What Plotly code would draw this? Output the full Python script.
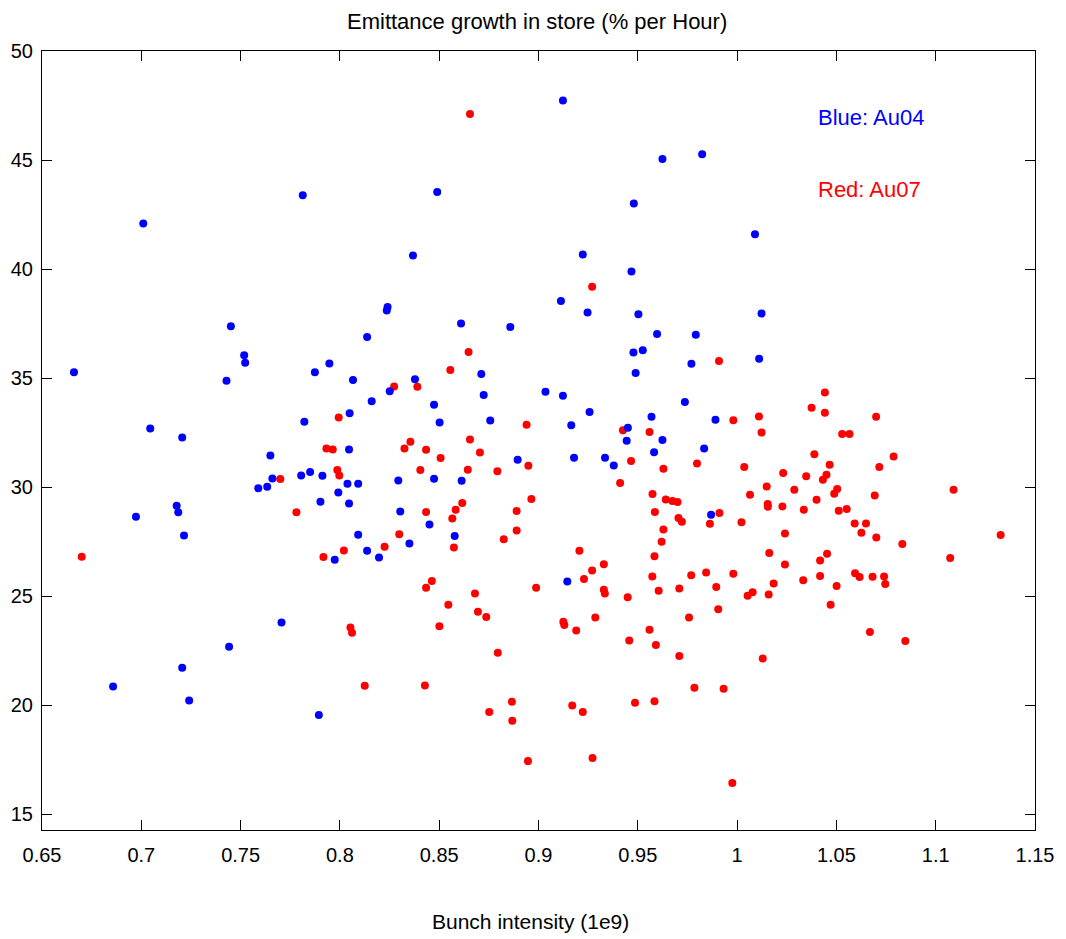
import plotly.graph_objects as go

# Au04 (blue) bunch intensity (1e9) and emittance growth (% per hour)
blue_x = [0.701, 0.7813, 0.849, 0.8368, 0.824, 0.9123, 0.9624, 0.9824, 0.948, 1.009,
          0.9223, 0.9468, 0.9113, 0.9247, 0.7451, 0.7518, 0.7523, 0.6661, 0.7429, 0.7045,
          0.7206, 0.765, 0.766, 0.7589, 0.7634, 0.7178, 0.7186, 0.6973, 0.7215, 0.8236,
          0.861, 0.8858, 0.8137, 0.7947, 0.7874, 0.8712, 0.8066, 0.8378, 0.8251, 0.8724,
          0.8160, 0.8474, 0.8049, 0.7821, 0.8502, 0.8757, 0.8046, 0.8895, 0.7805, 0.785,
          0.7912, 0.8038, 0.8092, 0.8294, 0.8474, 0.8613, 0.7992, 0.7902, 0.8046, 0.8304,
          0.8451, 0.8092, 0.8578, 0.835, 0.8137, 0.8197, 0.7974, 0.9503, 1.0123, 0.9597,
          0.9792, 0.9478, 0.9525, 0.977, 1.0111, 0.9489, 0.9035, 0.9123, 0.9737, 0.9257,
          0.9569, 0.9891, 0.9165, 0.945, 0.9444, 0.9624, 0.9582, 0.9834, 0.9179, 0.9335,
          0.9379, 0.9869, 0.9145, 0.7894, 0.7706, 0.7442, 0.7206, 0.6858, 0.7241]
blue_y = [42.09, 43.38, 43.53, 40.62, 38.26, 47.73, 45.05, 45.26, 43.0, 41.59,
          40.67, 39.89, 38.53, 38.01, 37.37, 36.04, 35.70, 35.27, 34.88, 32.69,
          32.27, 31.45, 30.39, 29.95, 30.01, 29.14, 28.84, 28.64, 27.78, 38.10,
          37.5, 37.34, 36.88, 35.67, 35.26, 35.18, 34.91, 34.95, 34.39, 34.22,
          33.94, 33.77, 33.39, 33.0, 32.96, 33.05, 31.72, 31.25, 30.53, 30.69,
          30.52, 30.15, 30.15, 30.30, 30.38, 30.29, 29.75, 29.33, 29.25, 28.88,
          28.28, 27.81, 27.75, 27.41, 27.08, 26.77, 26.66, 37.92, 37.96, 37.02,
          36.99, 36.17, 36.27, 35.66, 35.89, 35.23, 34.37, 34.19, 33.90, 33.44,
          33.22, 33.09, 32.83, 32.72, 32.12, 32.16, 31.60, 31.77, 31.34, 31.34,
          30.99, 28.73, 25.67, 19.54, 23.79, 22.67, 21.71, 20.85, 20.21]

# Au07 (red)
red_x = [0.8655, 0.927, 0.770, 0.67, 0.8648, 0.8556, 0.8273, 0.8390, 0.7994, 0.8940,
         0.8655, 0.8355, 0.8325, 0.7932, 0.7964, 0.8434, 0.8705, 0.8507, 0.8949, 0.7987,
         0.7997, 0.8405, 0.8644, 0.8793, 0.8964, 0.8616, 0.8583, 0.8890, 0.8566, 0.7781,
         0.8434, 0.8890, 0.8825, 0.8299, 0.8574, 0.8020, 0.8225, 0.7917, 0.9909, 0.9981,
         1.011, 1.0123, 0.9425, 0.9559, 0.9466, 0.9798, 0.9629, 1.0036, 0.9411, 1.0232,
         1.0149, 1.0065, 0.9574, 0.9641, 0.9674, 0.97, 1.0154, 1.0155, 1.0228, 0.9586,
         0.9911, 0.9705, 0.9722, 0.9863, 1.0022, 0.9629, 1.0241, 0.9620, 0.9206, 0.9584,
         1.0162, 0.9329, 0.927, 1.0241, 0.9844,
         1.0442, 1.0375, 1.0442, 1.0700, 1.0529, 1.0566, 1.0389, 1.0788, 1.0466, 1.0716,
         1.0348, 1.0450, 1.0432, 1.0288, 1.0504, 1.0489, 1.109, 1.0693, 1.04, 1.0336,
         1.0512, 1.0552, 1.0592, 1.0649, 1.0626, 1.0701, 1.0832, 1.1327, 1.0453, 1.0418,
         1.1073,
         1.0333, 1.0418, 1.0501, 1.0594, 1.0617, 1.0682, 1.074, 1.0746, 1.0471, 1.0669,
         1.0847,
         0.9229, 0.9573, 0.9769, 0.9981, 1.0184, 0.9329, 0.9334, 0.9605, 0.9709, 0.9895,
         0.9449, 1.0053, 1.0078, 1.0159, 0.9905, 0.9286, 0.9758, 0.9125, 0.913, 0.9190,
         0.9559, 0.9457, 0.9591, 0.9709, 1.0129, 0.9785, 0.9932, 0.917, 0.9223, 0.9486,
         0.9584, 0.9272, 0.9976,
         0.8463, 0.8434, 0.868, 0.8988, 0.8546, 0.8695, 0.8737, 0.8501, 0.8053, 0.8061,
         0.8795, 0.8125, 0.8428, 0.8866, 0.8752, 0.8868, 0.8947]
red_y = [47.11, 39.19, 30.37, 26.80, 36.19, 35.37, 34.61, 34.60, 33.19, 32.86,
         32.18, 32.08, 31.77, 31.77, 31.72, 31.71, 31.59, 31.33, 30.98, 30.78,
         30.53, 30.78, 30.79, 30.72, 29.45, 29.27, 28.96, 28.90, 28.56, 28.84,
         28.85, 28.01, 27.61, 27.84, 27.23, 27.09, 27.26, 26.79, 35.78, 33.06,
         33.24, 32.50, 32.61, 32.52, 31.19, 31.08, 30.84, 30.92, 30.18, 30.64,
         30.03, 29.65, 29.68, 29.43, 29.36, 29.31, 29.22, 29.10, 29.11, 28.85,
         28.81, 28.58, 28.41, 28.32, 28.38, 28.05, 27.87, 27.49, 27.08, 26.83,
         26.97, 26.46, 26.17, 26.45, 26.08,
         34.34, 33.64, 33.41, 33.22, 32.43, 32.43, 31.50, 31.40, 31.02, 30.92,
         30.49, 30.56, 30.33, 29.88, 29.91, 29.69, 29.88, 29.61, 29.42, 28.96,
         28.91, 28.99, 28.33, 28.33, 27.90, 27.69, 27.39, 27.80, 26.94, 26.63,
         26.74,
         25.72, 25.92, 25.46, 26.05, 25.87, 25.89, 25.90, 25.55, 24.60, 23.35,
         22.94,
         25.78, 25.90, 25.96, 26.02, 25.58, 25.29, 25.12, 25.24, 25.35, 25.41,
         24.95, 25.01, 25.17, 25.07, 24.39, 24.02, 24.02, 23.82, 23.67, 23.42,
         23.45, 22.96, 22.75, 22.25, 22.14, 20.79, 20.75, 19.98, 19.68, 20.11,
         20.18, 17.57, 16.42,
         25.69, 25.38, 25.12, 25.38, 24.60, 24.28, 24.04, 23.62, 23.56, 23.32,
         22.40, 20.89, 20.90, 20.15, 19.68, 19.28, 17.43]

x_ticks = [0.65, 0.7, 0.75, 0.8, 0.85, 0.9, 0.95, 1.0, 1.05, 1.1, 1.15]
x_tick_text = ["0.65", "0.7", "0.75", "0.8", "0.85", "0.9", "0.95", "1", "1.05", "1.1", "1.15"]
y_ticks = [15, 20, 25, 30, 35, 40, 45, 50]
y_tick_text = ["15", "20", "25", "30", "35", "40", "45", "50"]

FONT = "Liberation Sans, Arial, Helvetica, sans-serif"
FS = 20

fig = go.Figure()
fig.add_trace(go.Scatter(x=red_x, y=red_y, mode="markers",
                         marker=dict(color="#ff0000", size=8, line=dict(width=0)),
                         name="Au07", showlegend=False))
fig.add_trace(go.Scatter(x=blue_x, y=blue_y, mode="markers",
                         marker=dict(color="#0000ff", size=8, line=dict(width=0)),
                         name="Au04", showlegend=False))

axis_common = dict(showline=True, linecolor="black", linewidth=1, mirror="ticks",
                   ticks="inside", ticklen=10, tickcolor="black", tickwidth=1,
                   showgrid=False, zeroline=False, automargin=False,
                   tickfont=dict(family=FONT, size=FS, color="black"))

fig.update_xaxes(range=[0.65, 1.15], tickvals=x_ticks, ticktext=x_tick_text,
                 ticklabelstandoff=7, **axis_common)
fig.update_yaxes(range=[14.27, 50], tickvals=y_ticks, ticktext=y_tick_text,
                 ticklabelstandoff=4, **axis_common)

fig.add_annotation(text="Emittance growth in store (% per Hour)", xref="paper", yref="paper",
                   x=0.4985, y=1.0385, xanchor="center", yanchor="middle", showarrow=False,
                   font=dict(family=FONT, size=22, color="black"))
fig.add_annotation(text="Bunch intensity (1e9)", xref="paper", yref="paper",
                   x=0.4924, y=-0.117, xanchor="center", yanchor="middle", showarrow=False,
                   font=dict(family=FONT, size=21, color="black"))
fig.add_annotation(text="Blue: Au04", xref="x", yref="y", x=1.0395, y=46.94,
                   xanchor="left", yanchor="middle", showarrow=False,
                   font=dict(family=FONT, size=22, color="#0000ff"))
fig.add_annotation(text="Red: Au07", xref="x", yref="y", x=1.0395, y=43.64,
                   xanchor="left", yanchor="middle", showarrow=False,
                   font=dict(family=FONT, size=22, color="#ff0000"))

# page body has an 8px margin, so the figure is offset by 8px in the window
fig.update_layout(width=1058, height=931,
                  margin=dict(l=34, r=31, t=43, b=109, pad=0),
                  paper_bgcolor="white", plot_bgcolor="white",
                  font=dict(family=FONT, size=FS, color="black"))

fig.write_html("out.html")
